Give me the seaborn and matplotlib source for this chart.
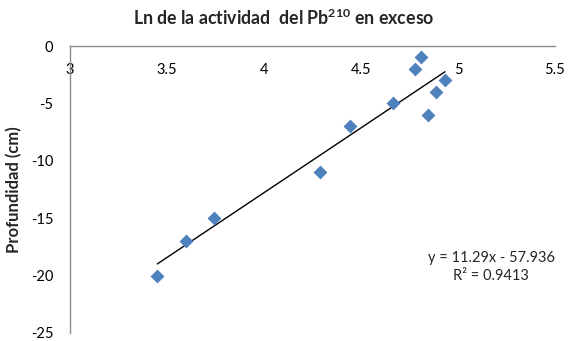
import matplotlib
matplotlib.use("Agg")
import matplotlib.pyplot as plt
import seaborn as sns
import pandas as pd
import numpy as np

# Natural log of excess Pb-210 activity vs. depth
ln_activity = [3.45, 3.60, 3.74, 4.29, 4.445, 4.667, 4.78, 4.81, 4.844, 4.888, 4.933]
depth_cm = [-20, -17, -15, -11, -7, -5, -2, -1, -6, -4, -3]

# Linear fit reported on the chart
slope = 11.29
intercept = -57.936
r_squared = 0.9413

x_ticks = [3, 3.5, 4, 4.5, 5, 5.5]
x_tick_labels = ["3", "3.5", "4", "4.5", "5", "5.5"]
y_ticks = [0, -5, -10, -15, -20, -25]
y_tick_labels = ["0", "-5", "-10", "-15", "-20", "-25"]

sns.set_theme(style="white")
plt.rcParams["font.family"] = ["Lato", "DejaVu Sans"]
plt.rcParams["mathtext.fontset"] = "custom"
plt.rcParams["mathtext.bf"] = "Lato:bold"
plt.rcParams["mathtext.rm"] = "Lato"

W, H = 569, 341
fig = plt.figure(figsize=(W / 100, H / 100), dpi=100)
ax = fig.add_axes([70 / W, 8 / H, 485 / W, 287 / H])

df = pd.DataFrame({"x": ln_activity, "y": depth_cm})
sns.scatterplot(data=df, x="x", y="y", marker="D", s=50, color="#4F81BD",
                linewidth=0, ax=ax, zorder=3)

# Trendline over the range of the data
fit_x = np.array([min(ln_activity), max(ln_activity)])
fit_df = pd.DataFrame({"x": fit_x, "y": slope * fit_x + intercept})
sns.lineplot(data=fit_df, x="x", y="y", color="black", linewidth=1.0, ax=ax, zorder=2)

ax.set_xlim(3, 5.5)
ax.set_ylim(-25, 0)
ax.set_xticks(x_ticks)
ax.set_xticklabels(x_tick_labels)
ax.set_yticks(y_ticks)
ax.set_yticklabels(y_tick_labels)
ax.set_xlabel("")
ax.set_ylabel("Profundidad (cm)", fontsize=12, fontweight="bold", labelpad=6)

axis_grey = "#8C8C8C"
ax.spines["bottom"].set_position(("data", 0))
ax.spines["top"].set_visible(False)
ax.spines["right"].set_visible(False)
for side in ("bottom", "left"):
    ax.spines[side].set_color(axis_grey)
    ax.spines[side].set_linewidth(1.0)

ax.tick_params(axis="x", direction="out", length=4, width=1, color=axis_grey,
               labelsize=10.5, labelcolor="black", pad=8)
ax.tick_params(axis="y", direction="out", length=4, width=1, color=axis_grey,
               labelsize=10.5, labelcolor="black", pad=8)
ax.grid(False)

fig.text(284 / W, 1 - 18 / H, r"Ln de la actividad  del Pb$^{\mathbf{210}}$ en exceso",
         ha="center", va="center", fontsize=12.8, fontweight="bold")

fig.text(491 / W, 1 - 258 / H, f"y = {slope}x - {abs(intercept)}",
         fontsize=10.5, ha="center", va="center")
fig.text(491 / W, 1 - 276 / H, f"R² = {r_squared}",
         fontsize=10.5, ha="center", va="center")

fig.savefig("out.png", dpi=100)
